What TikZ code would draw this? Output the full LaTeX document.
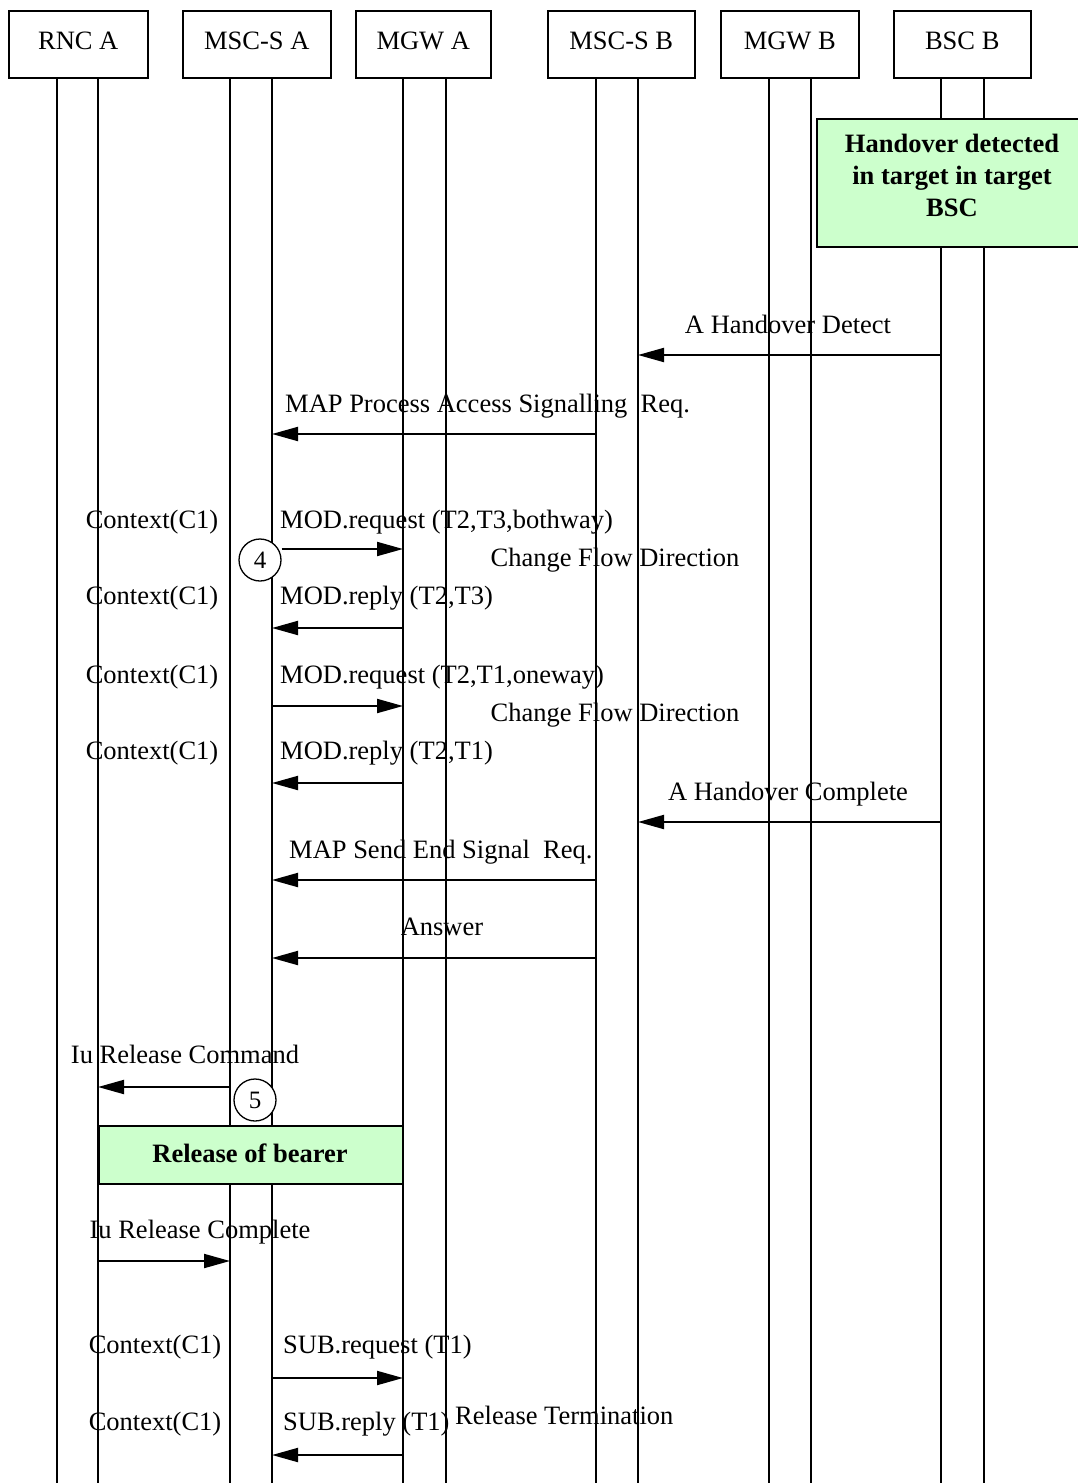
\documentclass[tikz,border=0pt]{standalone}
\usepackage{fontspec}
\setmainfont{Liberation Serif}
\usetikzlibrary{arrows.meta}
\begin{document}
\begin{tikzpicture}[x=1pt,y=-1pt,
  every node/.style={font=\fontsize{26.5}{32}\selectfont, inner sep=0pt},
  headbox/.style={draw, line width=1.5pt, minimum height=67pt, anchor=north west},
  headtxt/.style={yshift=3pt},
  lifeline/.style={line width=1.5pt},
  msg/.style={line width=2pt, -{Triangle[length=26pt,width=14pt]}},
  lbl/.style={anchor=base},
  lblw/.style={anchor=base west},
  notebox/.style={draw, line width=1.5pt, fill=green!20, font=\fontsize{26.5}{32}\selectfont\bfseries, align=center},
  circ/.style={draw, circle, line width=1.3pt, fill=white, minimum size=42pt, font=\fontsize{25}{28}\selectfont}]
\useasboundingbox (0,0) rectangle (1077,1483);
% header boxes
\node[headbox, minimum width=139pt] (rncA) at (8,10) {};
\node[headtxt] at (rncA.center) {RNC A};
\node[headbox, minimum width=148pt] (mscA) at (182,10) {};
\node[headtxt] at (mscA.center) {MSC-S A};
\node[headbox, minimum width=135pt] (mgwA) at (355,10) {};
\node[headtxt] at (mgwA.center) {MGW A};
\node[headbox, minimum width=147pt] (mscB) at (547,10) {};
\node[headtxt] at (mscB.center) {MSC-S B};
\node[headbox, minimum width=138pt] (mgwB) at (720,10) {};
\node[headtxt] at (mgwB.center) {MGW B};
\node[headbox, minimum width=137pt] (bscB) at (893,10) {};
\node[headtxt] at (bscB.center) {BSC B};
% lifelines
\foreach \x in {57,98,230,272,403,446,596,638,769,811,941,984}
  \draw[lifeline] (\x,77) -- (\x,1483);
% notes
\node[notebox, minimum width=262pt, minimum height=128pt, anchor=north west] (hod) at (816,118) {};
\node[lbl, font=\fontsize{26.5}{32}\selectfont\bfseries] (hod1) at (952,152) {Handover detected};
\node[lbl, font=\fontsize{26.5}{32}\selectfont\bfseries] (hod2) at (952,184) {in target in target};
\node[lbl, font=\fontsize{26.5}{32}\selectfont\bfseries] (hod3) at (952,216) {BSC};
\node[notebox, minimum width=304pt, minimum height=58pt, anchor=north west] (rob) at (98,1125) {};
\node[lbl, font=\fontsize{26.5}{32}\selectfont\bfseries] (robt) at (250,1162) {Release of bearer};
% circles
\node[circ] (c4) at (260,560) {4};
\node[circ] (c5) at (255,1100) {5};
% coordinates for messages
\coordinate (a1) at (941,355);  \coordinate (b1) at (638,355);
\coordinate (a2) at (596,434);  \coordinate (b2) at (272,434);
\coordinate (b3) at (403,549);
\coordinate (a4) at (403,628);  \coordinate (b4) at (272,628);
\coordinate (a5) at (272,706);  \coordinate (b5) at (403,706);
\coordinate (a6) at (403,783);  \coordinate (b6) at (272,783);
\coordinate (a7) at (941,822);  \coordinate (b7) at (638,822);
\coordinate (a8) at (596,880);  \coordinate (b8) at (272,880);
\coordinate (a9) at (596,958);  \coordinate (b9) at (272,958);
\coordinate (a10) at (230,1087); \coordinate (b10) at (98,1087);
\coordinate (a11) at (98,1261);  \coordinate (b11) at (230,1261);
\coordinate (a12) at (272,1378); \coordinate (b12) at (403,1378);
\coordinate (a13) at (403,1455); \coordinate (b13) at (272,1455);
% messages
\draw[msg] (a1) -- (b1);
\draw[msg] (a2) -- (b2);
\draw[msg] (c4.east |- b3) -- (b3);
\draw[msg] (a4) -- (b4);
\draw[msg] (a5) -- (b5);
\draw[msg] (a6) -- (b6);
\draw[msg] (a7) -- (b7);
\draw[msg] (a8) -- (b8);
\draw[msg] (a9) -- (b9);
\draw[msg] (a10) -- (b10);
\draw[msg] (a11) -- (b11);
\draw[msg] (a12) -- (b12);
\draw[msg] (a13) -- (b13);
% labels
\node[lbl] (t1) at (788,333) {A Handover Detect};
\node[lblw] (t2) at (285,412) {MAP Process Access Signalling\ \ Req.};
\node[lbl] (k1) at (152,528) {Context(C1)};
\node[lblw] (t3) at (280,528) {MOD.request (T2,T3,bothway)};
\node[lbl] (f1) at (615,566) {Change Flow Direction};
\node[lbl] (k2) at (152,604) {Context(C1)};
\node[lblw] (t4) at (280,604) {MOD.reply (T2,T3)};
\node[lbl] (k3) at (152,683) {Context(C1)};
\node[lblw] (t5) at (280,683) {MOD.request (T2,T1,oneway)};
\node[lbl] (f2) at (615,721) {Change Flow Direction};
\node[lbl] (k4) at (152,759) {Context(C1)};
\node[lblw] (t6) at (280,759) {MOD.reply (T2,T1)};
\node[lbl] (t7) at (788,800) {A Handover Complete};
\node[lblw] (t8) at (289,858) {MAP Send End Signal\ \ Req.};
\node[lbl] (t9) at (442,935) {Answer};
\node[lbl] (t10) at (185,1063) {Iu Release Command};
\node[lbl] (t11) at (200,1238) {Iu Release Complete};
\node[lbl] (k5) at (155,1353) {Context(C1)};
\node[lblw] (t12) at (283,1353) {SUB.request (T1)};
\node[lbl] (k6) at (155,1430) {Context(C1)};
\node[lblw] (t13) at (283,1430) {SUB.reply (T1)};
\node[lblw] (t14) at (455,1424) {Release Termination};
\end{tikzpicture}
\end{document}
